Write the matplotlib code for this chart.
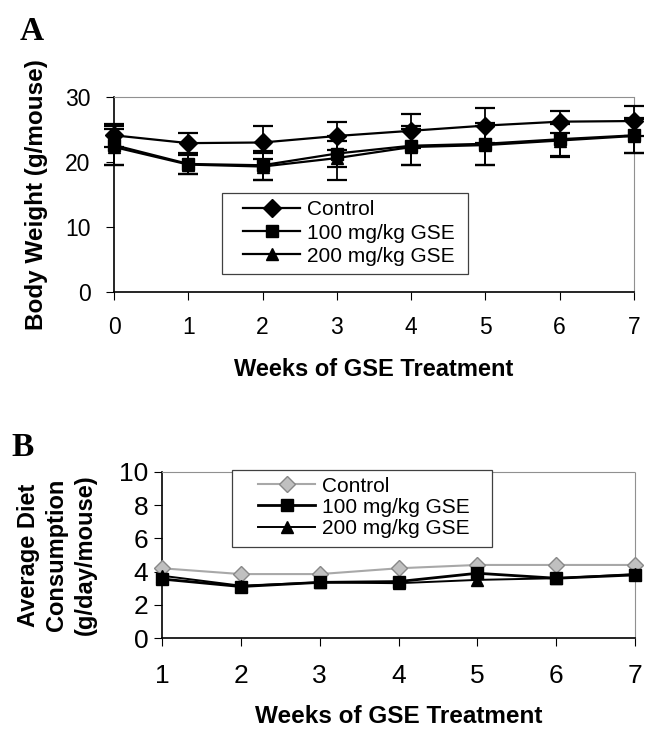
import numpy as np
import matplotlib
matplotlib.use("Agg")
import matplotlib.pyplot as plt  # noqa: E402
from matplotlib.patches import Rectangle  # noqa: E402

plt.rcParams["font.family"] = ["Liberation Sans", "DejaVu Sans"]

# Panel A: body weight (g/mouse)
weeks_a = [0, 1, 2, 3, 4, 5, 6, 7]
bw_control = [24.1, 22.9, 23.0, 24.0, 24.8, 25.6, 26.2, 26.3]
bw_100 = [22.6, 19.7, 19.5, 21.3, 22.5, 22.8, 23.5, 24.1]
bw_200 = [22.3, 19.6, 19.3, 20.6, 22.3, 22.6, 23.3, 24.0]
err_control = [1.8, 1.5, 2.6, 2.1, 2.6, 2.7, 1.7, 2.3]
err_100 = [3.0, 1.6, 2.2, 2.0, 3.0, 3.2, 2.6, 2.7]
err_200 = [2.8, 1.4, 2.1, 3.4, 2.8, 3.0, 2.5, 2.6]

# Panel B: average diet consumption (g/day/mouse)
weeks_b = [1, 2, 3, 4, 5, 6, 7]
diet_control = [4.2, 3.85, 3.85, 4.2, 4.4, 4.4, 4.4]
diet_100 = [3.55, 3.1, 3.35, 3.4, 3.9, 3.6, 3.8]
diet_200 = [3.75, 3.15, 3.35, 3.3, 3.5, 3.6, 3.85]

labels = ["Control", "100 mg/kg GSE", "200 mg/kg GSE"]


def style_axes(ax):
    for side in ("top", "right"):
        ax.spines[side].set_color("#909090")
        ax.spines[side].set_linestyle((0, (1, 1)))
        ax.spines[side].set_linewidth(0.8)
    for side in ("left", "bottom"):
        ax.spines[side].set_color("black")
        ax.spines[side].set_linewidth(1.2)
    ax.tick_params(direction="out", length=6, width=0.8, top=False, right=False)


def legend_box(ax, x0, y0, x1, y1):
    ax.add_patch(Rectangle((x0, y0), x1 - x0, y1 - y0, transform=ax.transAxes,
                           facecolor="white", edgecolor="#404040", linewidth=0.9,
                           clip_on=False, zorder=5))


fig = plt.figure(figsize=(6.52, 7.33), dpi=100)

# ---- Panel A ----
ax1 = fig.add_axes([0.175, 0.6016, 0.797, 0.2661])
series_a = [(bw_control, err_control, "D"), (bw_100, err_100, "s"), (bw_200, err_200, "^")]
for (vals, errs, mk), lab in zip(series_a, labels):
    ax1.errorbar(weeks_a, vals, yerr=errs, color="black", marker=mk, markersize=9,
                 linewidth=1.6, elinewidth=1.3, capsize=7, capthick=1.6,
                 label=lab, clip_on=False, zorder=3)
ax1.set_xlim(0, 7)
ax1.set_ylim(0, 30)
ax1.set_xticks(weeks_a)
ax1.set_yticks([0, 10, 20, 30])
ax1.tick_params(labelsize=16.5, pad=11)
style_axes(ax1)
ax1.set_xlabel("Weeks of GSE Treatment", fontsize=17, fontweight="bold", labelpad=14)
ax1.set_ylabel("Body Weight (g/mouse)", fontsize=17.5, fontweight="bold", labelpad=12)
handles, labs = ax1.get_legend_handles_labels()
handles = [h[0] for h in handles]
legend_box(ax1, 0.2077, 0.092, 0.681, 0.508)
leg1 = ax1.legend(handles, labs, loc="upper left", bbox_to_anchor=(0.248, 0.47),
                  borderaxespad=0, borderpad=0, frameon=False, fontsize=15,
                  handlelength=2.75, handletextpad=0.3, labelspacing=0.2)
leg1.set_zorder(6)
fig.text(0.03, 0.945, "A", fontsize=24, fontweight="bold",
         family=["Liberation Serif", "DejaVu Serif"])

# ---- Panel B ----
ax2 = fig.add_axes([0.2485, 0.1296, 0.7255, 0.2265])
ax2.plot(weeks_b, diet_control, color="#a8a8a8", linewidth=1.5, marker="D",
         markersize=8, markerfacecolor="#c0c0c0", markeredgecolor="#888888",
         label=labels[0], clip_on=False, zorder=3)
ax2.plot(weeks_b, diet_100, color="black", linewidth=2.0, marker="s",
         markersize=9, label=labels[1], clip_on=False, zorder=4)
ax2.plot(weeks_b, diet_200, color="black", linewidth=1.4, marker="^",
         markersize=9, label=labels[2], clip_on=False, zorder=4)
ax2.set_xlim(1, 7)
ax2.set_ylim(0, 10)
ax2.set_xticks(weeks_b)
ax2.set_yticks(np.arange(0, 11, 2))
ax2.tick_params(axis="x", labelsize=19, pad=13)
ax2.tick_params(axis="y", labelsize=19, pad=4)
style_axes(ax2)
ax2.set_xlabel("Weeks of GSE Treatment", fontsize=17.5, fontweight="bold", labelpad=12)
ax2.set_ylabel("Average Diet\nConsumption\n(g/day/mouse)", fontsize=17,
               fontweight="bold", labelpad=16, linespacing=1.3)
legend_box(ax2, 0.148, 0.548, 0.698, 1.012)
leg2 = ax2.legend(loc="upper left", bbox_to_anchor=(0.203, 0.972), borderaxespad=0,
                  borderpad=0, frameon=False, fontsize=15, handlelength=2.75,
                  handletextpad=0.33, labelspacing=0.1)
leg2.set_zorder(6)
fig.text(0.018, 0.378, "B", fontsize=24, fontweight="bold",
         family=["Liberation Serif", "DejaVu Serif"])

fig.savefig("out.png", dpi=100)
plt.close(fig)
